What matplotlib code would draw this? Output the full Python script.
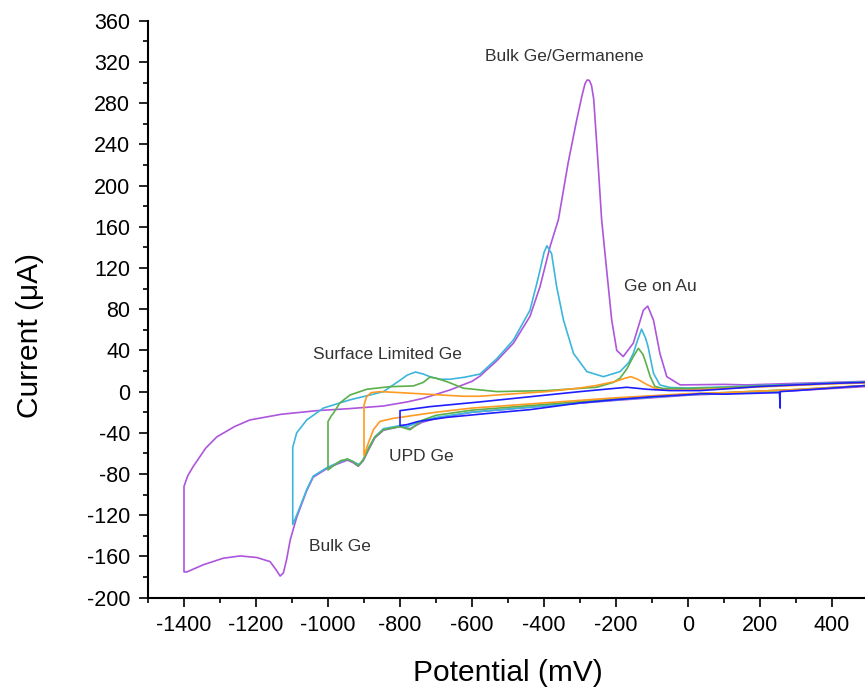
import matplotlib.pyplot as plt
from matplotlib.ticker import MultipleLocator

# Cyclic voltammograms of Ge deposition on Au, one loop per switching potential.
# Each loop: cathodic sweep from +500 mV to the switching potential, then back.

# scan to -1400 mV
purple_mv = [500, 300, 100, 0, -200, -400, -600, -700, -740, -772, -800, -846, -870, -888,
             -902, -916, -930, -946, -976, -1004, -1041, -1059, -1087, -1105, -1115, -1124,
             -1133, -1144, -1161, -1198, -1244, -1291, -1346, -1392, -1400,
             -1400, -1390, -1375, -1340, -1309, -1260, -1217, -1130, -1031, -940, -847, -780,
             -735, -661, -633, -600, -578, -531, -485, -439, -411, -383, -360, -333, -309,
             -294, -286, -280, -274, -268, -262, -250, -240, -226, -212, -198, -180, -152,
             -124, -112, -96, -78, -59, -22, 100, 163, 300, 400, 500]
purple_ua = [5, 1, -2, -3.5, -8.5, -14, -20, -26, -30, -36, -34, -37.5, -45, -57,
             -67, -72.5, -69, -66.5, -70.5, -75, -83, -96, -122, -144, -163, -176,
             -179, -173, -165, -161, -159.5, -161.7, -168, -175, -175,
             -92, -82, -73, -55, -44, -34, -27.5, -22, -18.5, -16.5, -14, -10,
             -6.5, 1.6, 5.5, 10, 15, 30, 47, 73, 102, 141, 167, 222, 264,
             288, 299, 302.5, 302, 297, 284, 222, 167, 118, 69.5, 40, 34, 47,
             79, 83, 69.5, 37, 14.5, 6.5, 7, 6.5, 8, 9, 10]

# scan to -1100 mV
cyan_mv = [500, 300, 100, 0, -200, -400, -600, -700, -750, -780, -800, -846, -870, -888,
           -902, -913, -930, -946, -976, -1004, -1041, -1059, -1087, -1098,
           -1098, -1087, -1059, -1013, -939, -880, -846, -800, -780, -757, -735, -717,
           -690, -661, -620, -578, -531, -485, -439, -420, -411, -400, -392, -379, -365,
           -346, -318, -281, -235, -189, -165, -152, -140, -129, -118, -111, -96, -78,
           -50, 0, 100, 200, 300, 400, 500]
cyan_ua = [6, 1.5, -1.5, -3, -8, -14, -20, -25, -30, -34, -33, -36, -44, -55,
           -66, -71, -68, -65.5, -69.5, -74, -82, -95, -120, -129,
           -54, -40, -27.5, -16, -8, -3, 0, 11, 16, 19, 17, 14.5,
           12, 12, 14, 17, 32, 50, 79, 105, 118, 135, 141.5, 134, 102,
           69.5, 37, 19.4, 14.5, 19.4, 28, 37, 50, 60.6, 52, 43.7, 17.8, 6.4,
           4, 3.5, 4.5, 6, 7, 8.5, 9.5]

# scan to -1000 mV
green_mv = [500, 300, 100, 0, -200, -400, -600, -700, -740, -772, -800, -846, -870, -888,
            -902, -916, -930, -946, -965, -985, -1000,
            -1000, -990, -985, -967, -939, -892, -828, -763, -735, -717, -700, -670, -624,
            -531, -393, -254, -207, -189, -170, -152, -138, -125, -119, -105, -92, -70,
            0, 100, 200, 300, 400, 500]
green_ua = [6, 2, -1, -2.5, -7, -12.5, -18, -23, -28, -37, -34, -37, -44, -56,
            -66, -72, -68, -65.5, -67, -72, -76,
            -29, -23, -21, -11, -3.3, 2.3, 4.8, 5.5, 9, 14, 13, 9.7, 3.3,
            0, 1, 4.2, 9, 13, 22, 34, 42, 36, 30, 14.5, 5, 3,
            3, 4, 5.5, 6.5, 8, 9]

# scan to -900 mV
orange_mv = [500, 300, 100, 0, -200, -400, -600, -700, -780, -820, -856, -874, -888, -900,
             -900, -893, -880, -855, -800, -700, -625, -578, -500, -393, -300, -254, -200,
             -175, -159, -140, -115, -90, -68, 0, 100, 200, 300, 400, 500]
orange_ua = [6, 2, -1, -2, -6, -11, -16, -20, -24, -26, -29, -37, -50, -62,
             -13, -5, -1, 0, -1, -3, -4.5, -4.5, -2.5, 0, 3.5, 6, 10,
             13, 14.5, 12, 7, 3, 1.5, 1.5, 3, 4.5, 6, 7.5, 8.5]

# scan to -800 mV
blue_mv = [500, 400, 300, 256, 256, 254, 200, 100, 33, 0, -100, -207, -300, -439, -550,
           -670, -750, -780, -800,
           -800, -717, -578, -439, -300, -208, -170, -115, -50, 33, 100, 200, 300, 400, 500]
blue_ua = [6, 3.5, 1, 0, -16, -1, -1.5, -2.5, -2, -3, -5, -8, -11, -17.5, -21,
           -25, -29, -32, -33,
           -18.5, -14.6, -10, -5, 0, 3, 4.2, 2.3, 1, 1, 2.5, 5, 6.5, 8, 9]

loops = [
    (purple_mv, purple_ua, '#ad55dc'),
    (cyan_mv, cyan_ua, '#3db6dc'),
    (green_mv, green_ua, '#5bb04a'),
    (orange_mv, orange_ua, '#ff9a22'),
    (blue_mv, blue_ua, '#1e1eff'),
]

peak_labels = ['Bulk Ge/Germanene', 'Ge on Au', 'Surface Limited Ge', 'UPD Ge', 'Bulk Ge']
label_mv = [-344, -78, -836, -742, -967]
label_ua = [325, 102, 36, -63, -150]

plt.rcParams['font.family'] = ['Liberation Sans', 'DejaVu Sans']
plt.rcParams['axes.unicode_minus'] = False

fig = plt.figure(figsize=(8.65, 6.94), dpi=100)
ax = fig.add_axes([0.1711, 0.1388, 0.8324, 0.8314])

for mv, ua, color in loops:
    ax.plot(mv, ua, color=color, linewidth=1.2)

for text, x, y in zip(peak_labels, label_mv, label_ua):
    ax.text(x, y, text, ha='center', va='center', fontsize=12.5, color='#333333')

ax.set_xlim(-1500, 500)
ax.set_ylim(-200, 360)
ax.xaxis.set_major_locator(MultipleLocator(200))
ax.xaxis.set_minor_locator(MultipleLocator(100))
ax.yaxis.set_major_locator(MultipleLocator(40))
ax.yaxis.set_minor_locator(MultipleLocator(20))

ax.spines['top'].set_visible(False)
ax.spines['right'].set_visible(False)
for side in ['left', 'bottom']:
    ax.spines[side].set_linewidth(1.5)

ax.tick_params(which='major', direction='out', length=6.8, width=1.2, pad=6, labelsize=15.5)
ax.tick_params(which='minor', direction='out', length=3.4, width=1.2)

ax.set_xlabel('Potential (mV)', fontsize=21.5)
ax.set_ylabel('Current (μA)', fontsize=21.5)
ax.xaxis.set_label_coords(0.5, -0.106)
ax.yaxis.set_label_coords(-0.144, 0.454)

fig.savefig('out.png', dpi=100)
